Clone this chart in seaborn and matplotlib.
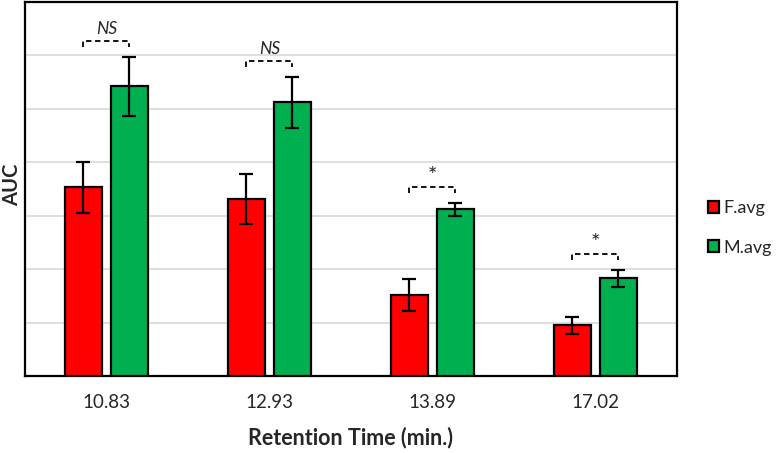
import pandas as pd
import numpy as np
import matplotlib.pyplot as plt
import seaborn as sns

# values (AUC, arbitrary units)
retention = ['10.83', '12.93', '13.89', '17.02']
f_avg = [3.53, 3.31, 1.51, 0.95]
f_err = [0.48, 0.46, 0.30, 0.16]
m_avg = [5.42, 5.12, 3.12, 1.83]
m_err = [0.55, 0.48, 0.12, 0.16]
signif = ['NS', 'NS', '*', '*']

df = pd.DataFrame({
    'rt': retention * 2,
    'group': ['F.avg'] * 4 + ['M.avg'] * 4,
    'auc': f_avg + m_avg,
})

sns.set_style('white')
plt.rcParams['font.family'] = ['Lato', 'DejaVu Sans']

fig = plt.figure(figsize=(7.79, 4.53), dpi=100)
ax = fig.add_axes([0.032, 0.170, 0.837, 0.826])

ax = sns.barplot(data=df, x='rt', y='auc', hue='group',
                 palette={'F.avg': '#ff0000', 'M.avg': '#00b050'},
                 saturation=1, width=0.565, gap=0.2,
                 edgecolor='black', linewidth=1.6,
                 errorbar=None, ax=ax, zorder=3)

# error bars on top of the seaborn bars
errs = [f_err, m_err]
centers = []
for cont, err in zip(ax.containers, errs):
    xs = [b.get_x() + b.get_width() / 2 for b in cont]
    ys = [b.get_height() for b in cont]
    centers.append(xs)
    ax.errorbar(xs, ys, yerr=err, fmt='none', ecolor='black',
                elinewidth=1.6, capsize=5, capthick=1.6, zorder=4)

# significance brackets
for i in range(len(retention)):
    top = max(f_avg[i] + f_err[i], m_avg[i] + m_err[i]) + 0.3
    x1, x2 = centers[0][i], centers[1][i]
    ax.plot([x1, x1, x2, x2], [top - 0.12, top, top, top - 0.12],
            color='black', lw=1.3, ls=(0, (3, 2)), zorder=4)
    if signif[i] == 'NS':
        ax.text((x1 + x2) / 2, top + 0.07, 'NS', ha='center', va='bottom',
                fontsize=12.5, style='italic')
    else:
        ax.text((x1 + x2) / 2, top + 0.02, '*', ha='center', va='bottom',
                fontsize=16)

ax.set_ylim(0, 7)
ax.set_xlim(-0.5, 3.5)
ax.set_yticks(np.arange(0, 8))
ax.set_yticklabels([])
ax.yaxis.grid(True, color='#d9d9d9', lw=1.2, zorder=0)
ax.set_axisbelow(True)
ax.tick_params(axis='both', length=0)
ax.tick_params(axis='x', labelsize=13.5, pad=13)
for s in ax.spines.values():
    s.set_color('black')
    s.set_linewidth(1.6)

ax.set_xlabel('Retention Time (min.)', fontsize=15.5, fontweight='bold', labelpad=11)
ax.set_ylabel('AUC', fontsize=14.5, fontweight='bold')
ax.yaxis.set_label_coords(-0.005, 0.51)

leg = ax.legend(loc='center left', bbox_to_anchor=(1.047, 0.396), frameon=False,
                fontsize=13, handlelength=0.65, handleheight=0.65,
                handletextpad=0.25, labelspacing=1.3,
                borderaxespad=0, borderpad=0)

plt.savefig('out.png', dpi=100)
